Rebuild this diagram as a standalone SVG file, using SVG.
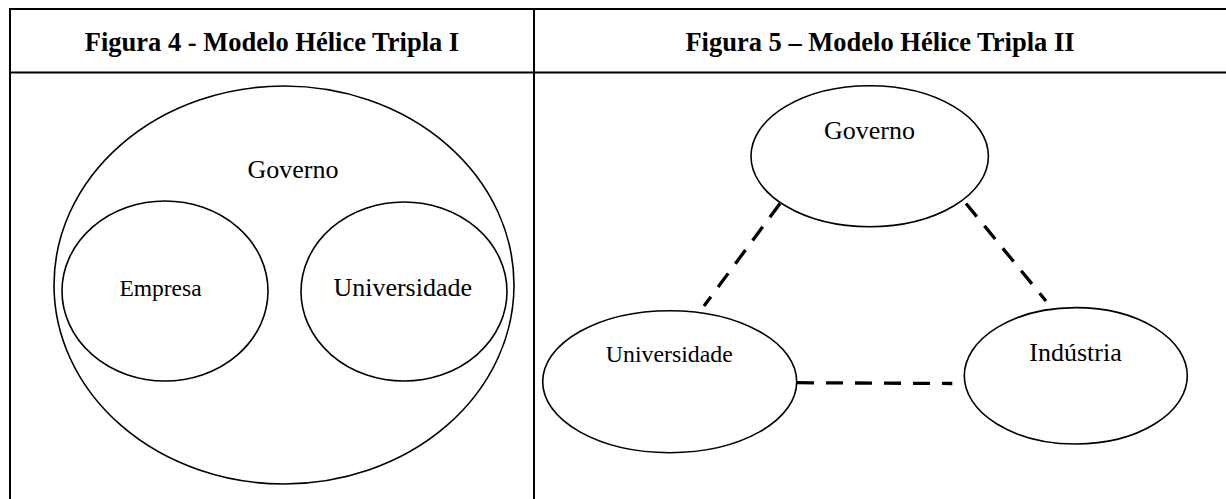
<svg xmlns="http://www.w3.org/2000/svg" width="1226" height="499" viewBox="0 0 1226 499">
<style>
.grid{stroke:#000;stroke-width:2;fill:none}
.shape{fill:none;stroke:#000;stroke-width:1.6}
.title{font-family:"Liberation Serif","Times New Roman",serif;font-weight:bold;font-size:26.5px;fill:#000;text-anchor:middle}
.lbl{font-family:"Liberation Serif","Times New Roman",serif;fill:#000;text-anchor:middle}
.dash{stroke:#000;stroke-width:3.3;stroke-dasharray:17 12;fill:none}
</style>
<rect width="1226" height="499" fill="#fff"/>
<g id="table">
<line class="grid" x1="10" y1="9" x2="1226" y2="9"/>
<line class="grid" x1="10" y1="72.5" x2="1226" y2="72.5"/>
<line class="grid" x1="10" y1="8" x2="10" y2="499"/>
<line class="grid" x1="534" y1="8" x2="534" y2="499"/>
<text class="title" x="272" y="50.7">Figura 4 - Modelo Hélice Tripla I</text>
<text class="title" x="880" y="50.7">Figura 5 – Modelo Hélice Tripla II</text>
</g>
<g id="governo1">
<ellipse class="shape" cx="284" cy="285" rx="230" ry="199"/>
<text class="lbl" x="293" y="178" font-size="26">Governo</text>
</g>
<g id="empresa">
<ellipse class="shape" cx="165" cy="291" rx="103" ry="90"/>
<text class="lbl" x="160.5" y="296" font-size="23.5">Empresa</text>
</g>
<g id="universidade1">
<ellipse class="shape" cx="404" cy="291.5" rx="103" ry="89.5"/>
<text class="lbl" x="402.7" y="296" font-size="26">Universidade</text>
</g>
<g id="connectors">
<line class="dash" x1="780" y1="203.5" x2="704" y2="306"/>
<line class="dash" x1="966" y1="203.5" x2="1046" y2="301"/>
<line class="dash" x1="797" y1="382.7" x2="952.3" y2="383.5"/>
</g>
<g id="governo2">
<ellipse class="shape" cx="869.7" cy="156.2" rx="118.7" ry="70.5"/>
<text class="lbl" x="869.5" y="139.3" font-size="26">Governo</text>
</g>
<g id="universidade2">
<ellipse class="shape" cx="669.7" cy="381.7" rx="127" ry="71"/>
<text class="lbl" x="669.3" y="361.7" font-size="23.8">Universidade</text>
</g>
<g id="industria">
<ellipse class="shape" cx="1075.8" cy="375.8" rx="111.5" ry="68.2"/>
<text class="lbl" x="1075.5" y="360.7" font-size="26">Indústria</text>
</g>
</svg>
